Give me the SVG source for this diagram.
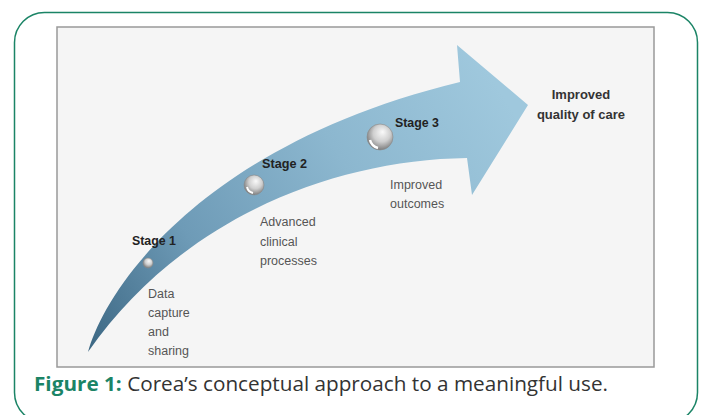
<svg xmlns="http://www.w3.org/2000/svg" width="702" height="415" viewBox="0 0 702 415">
<defs>
<style>
.stage{font-family:"Liberation Sans",Arial,sans-serif;font-weight:bold;font-size:13px;fill:#222}
.desc{font-family:"Liberation Sans",Arial,sans-serif;font-size:12.5px;fill:#555}
.goal{font-family:"Liberation Sans",Arial,sans-serif;font-weight:bold;font-size:13px;fill:#333;text-anchor:middle}
.cap{font-family:"Open Sans","Noto Sans","Liberation Sans",sans-serif;font-size:20px;fill:#333}
.ball{fill:url(#ballg);stroke:#8a8a8a;stroke-width:0.6}
</style>
<linearGradient id="arrowg" gradientUnits="userSpaceOnUse" x1="88" y1="352" x2="500" y2="90">
<stop offset="0" stop-color="#3c6783"/>
<stop offset="0.3" stop-color="#6e9bb7"/>
<stop offset="0.65" stop-color="#8cb7cf"/>
<stop offset="1" stop-color="#9fc8dd"/>
</linearGradient>
<radialGradient id="ballg" cx="0.55" cy="0.4" r="0.6" fx="0.6" fy="0.3">
<stop offset="0" stop-color="#fafafa"/>
<stop offset="0.55" stop-color="#cfcfcf"/>
<stop offset="1" stop-color="#7d7d7d"/>
</radialGradient>
</defs>
<rect x="0" y="0" width="702" height="415" fill="#ffffff"/>
<rect id="frame" x="14.5" y="12.5" width="683" height="410" rx="30" ry="30" fill="#ffffff" stroke="#1b8466" stroke-width="1.5"/>
<rect id="panel" x="57" y="27" width="597" height="340" fill="#f5f5f5" stroke="#999999" stroke-width="1.5"/>
<g id="arrow">
<path d="M88,352 C105,290 200,145 460,82 L457,45 L528,105 L472,195 L467,158 C330,160 180,220 88,352 Z" fill="url(#arrowg)"/>
</g>
<g id="stage1">
<circle class="ball" cx="148" cy="263" r="5"/>
<text class="stage" x="132" y="245" textLength="44" lengthAdjust="spacingAndGlyphs">Stage 1</text>
<text class="desc" x="148" y="298">Data</text>
<text class="desc" x="148" y="317">capture</text>
<text class="desc" x="148" y="336">and</text>
<text class="desc" x="148" y="355">sharing</text>
</g>
<g id="stage2">
<circle class="ball" cx="254" cy="185" r="10"/>
<path d="M247,187 A8,8 0 0 0 253,193" fill="none" stroke="#ffffff" stroke-width="2"/>
<text class="stage" x="262" y="168" textLength="45" lengthAdjust="spacingAndGlyphs">Stage 2</text>
<text class="desc" x="260" y="226">Advanced</text>
<text class="desc" x="260" y="246">clinical</text>
<text class="desc" x="260" y="265">processes</text>
</g>
<g id="stage3">
<circle class="ball" cx="380" cy="137" r="13"/>
<path d="M370,140 A11,11 0 0 0 378,148" fill="none" stroke="#ffffff" stroke-width="2.5"/>
<text class="stage" x="395" y="127" textLength="44" lengthAdjust="spacingAndGlyphs">Stage 3</text>
<text class="desc" x="390" y="189">Improved</text>
<text class="desc" x="390" y="208">outcomes</text>
</g>
<g id="goal">
<text class="goal" x="581" y="99">Improved</text>
<text class="goal" x="581" y="119">quality of care</text>
</g>
<text class="cap" x="34" y="391" textLength="574" lengthAdjust="spacingAndGlyphs"><tspan font-weight="bold" fill="#1b8466">Figure 1:</tspan> Corea’s conceptual approach to a meaningful use.</text>
</svg>
